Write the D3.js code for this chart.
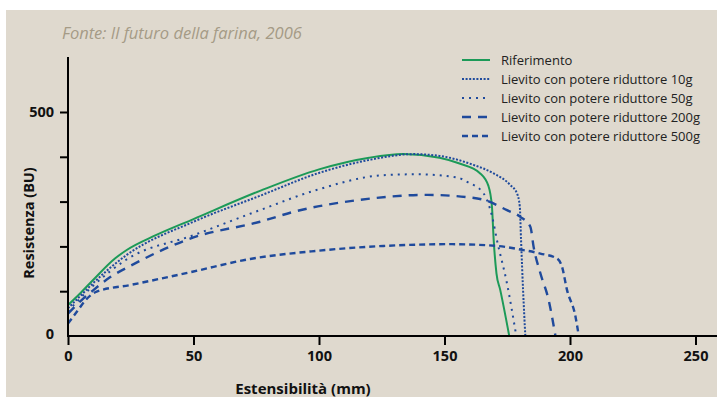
<!DOCTYPE html>
<html><head><meta charset="utf-8">
<script src="https://cdn.jsdelivr.net/npm/d3@7"></script>
<style>
body{margin:0;background:#fff;}
svg{display:block;}
</style></head>
<body><svg id="c" width="717" height="397"></svg>
<script>
const title = "Fonte: Il futuro della farina, 2006";
const xLabel = "Estensibilità (mm)";
const yLabel = "Resistenza (BU)";
const xTicks = [0, 50, 100, 150, 200, 250];
const yTicks = [100, 200, 300, 400, 500];
const yTickLabels = {0: "0", 500: "500"};
const seriesNames = ["Riferimento", "Lievito con potere riduttore 10g", "Lievito con potere riduttore 50g", "Lievito con potere riduttore 200g", "Lievito con potere riduttore 500g"];

const refX = [0, 5, 10, 18.7, 23.4, 35, 50, 76.5, 100, 120, 133.6, 148, 156, 164, 167.5, 168.9, 169.6, 170.7, 172.2, 175.8];
const refY = [69, 96, 125, 173, 192, 225, 261, 324, 372, 398, 406, 398, 385, 364, 335, 289, 214, 140, 103, 0];

const l10X = [0, 5, 10, 23.4, 50, 76.5, 100, 120, 137.6, 148, 161.5, 169.6, 176.2, 178.9, 180, 180.5, 181.3, 182.2];
const l10Y = [62, 90, 118, 181, 255, 313, 364, 393, 406, 402, 382, 363, 337, 318, 289, 214, 103, 0];

const l50X = [0, 5, 10, 23.4, 50, 76.5, 99, 125.7, 139, 155, 159, 165.6, 169, 170.9, 174.9, 178.6];
const l50Y = [55, 85, 112, 171, 225, 281, 326, 359, 361, 354, 344, 318, 266, 214, 117, 0];

const l200X = [0, 5, 10, 17, 25, 50, 76.5, 89.8, 116.4, 143, 159, 165.6, 174.9, 180.2, 184.2, 185.5, 188.2, 191.5, 194.2];
const l200Y = [50, 78, 102, 132, 157, 220, 255, 277, 304, 315, 310, 304, 281, 266, 244, 199, 140, 80, 0];

const l500X = [0, 3.5, 7, 11.4, 25, 50, 72.6, 99, 125.7, 152.3, 171, 180.2, 188.2, 194.8, 196.8, 198.8, 202.2, 203.5];
const l500Y = [28, 54, 80, 99, 114, 144, 172, 190, 201, 205, 201, 193, 184, 173, 155, 103, 43, 0];

const seriesX = [refX, l10X, l50X, l200X, l500X];
const seriesY = [refY, l10Y, l50Y, l200Y, l500Y];
const colors = ["#1c9a58", "#1f4a9c", "#1f4a9c", "#1f4a9c", "#1f4a9c"];
const dashes = [null, "2,1.6", "2,5", "9,7", "6,4"];
const widths = [2, 2, 2, 2.4, 2.4];

const svg = d3.select("#c");
svg.append("rect").attr("x", 6).attr("y", 10).attr("width", 711).attr("height", 387).attr("fill", "#dfd9ce");

const x = d3.scaleLinear().domain([0, 250]).range([68, 695.5]);
const y = d3.scaleLinear().domain([0, 500]).range([336, 112]);

const font = "'Open Sans', sans-serif";

svg.append("text").attr("x", 62).attr("y", 39).text(title)
  .attr("font-family", font).attr("font-style", "italic").attr("font-size", 16.5).attr("fill", "#a59b86");

// lines
const line = d3.line().x(d => x(d[0])).y(d => y(d[1])).curve(d3.curveMonotoneX);
seriesX.forEach((xs, i) => {
  const pts = xs.map((v, j) => [v, seriesY[i][j]]);
  svg.append("path").attr("d", line(pts)).attr("fill", "none")
    .attr("stroke", colors[i]).attr("stroke-width", widths[i])
    .attr("stroke-dasharray", dashes[i]);
});

// axes
const xAxis = d3.axisBottom(x).tickValues(xTicks).tickSize(9).tickPadding(6).tickFormat(d3.format("d"));
const gx = svg.append("g").attr("transform", `translate(0,${y(0)})`).call(xAxis);
gx.select(".domain").attr("d", `M${x(0)},0H717`).attr("stroke", "#000").attr("stroke-width", 2);
gx.selectAll(".tick line").attr("stroke", "#000").attr("stroke-width", 2);
gx.selectAll(".tick text").attr("font-family", font).attr("font-weight", "bold").attr("font-size", 14.5).attr("fill", "#111");

const yAxis = d3.axisLeft(y).tickValues(yTicks).tickSize(8).tickPadding(6).tickFormat(d => yTickLabels[d] || "");
const gy = svg.append("g").attr("transform", `translate(${x(0)},0)`).call(yAxis);
gy.select(".domain").attr("d", `M0,57V${y(0) + 1}`).attr("stroke", "#000").attr("stroke-width", 2);
gy.selectAll(".tick line").attr("stroke", "#000").attr("stroke-width", 2);
gy.selectAll(".tick text").attr("font-family", font).attr("font-weight", "bold").attr("font-size", 14.5).attr("fill", "#111");
svg.append("text").attr("x", x(0) - 14).attr("y", y(0) - 2).attr("dy", "0.32em").attr("text-anchor", "end")
  .text(yTickLabels[0]).attr("font-family", font).attr("font-weight", "bold").attr("font-size", 14.5).attr("fill", "#111");

svg.append("text").attr("x", 303).attr("y", 394).attr("text-anchor", "middle").text(xLabel)
  .attr("font-family", font).attr("font-weight", "bold").attr("font-size", 15).attr("fill", "#111");
svg.append("text").attr("transform", "translate(34,223) rotate(-90)").attr("text-anchor", "middle").text(yLabel)
  .attr("font-family", font).attr("font-weight", "bold").attr("font-size", 14.5).attr("fill", "#111");

// legend
const lg = svg.append("g");
seriesNames.forEach((n, i) => {
  const yy = 60 + i * 19;
  lg.append("line").attr("x1", 462).attr("x2", 490).attr("y1", yy).attr("y2", yy)
    .attr("stroke", colors[i]).attr("stroke-width", widths[i]).attr("stroke-dasharray", dashes[i]);
  lg.append("text").attr("x", 501).attr("y", yy).attr("dy", "0.35em").text(n)
    .attr("font-family", font).attr("font-size", 13).attr("fill", "#222");
});
</script></body></html>
